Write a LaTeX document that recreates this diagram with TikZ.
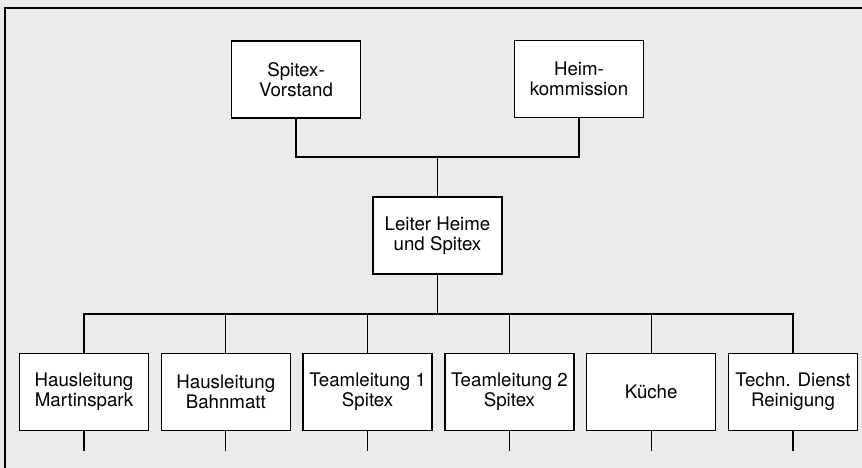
\documentclass[tikz,border=0pt]{standalone}
\usepackage{fontspec}
\setmainfont{TeX Gyre Heros}
\usepackage{tikz}

\begin{document}
\begin{tikzpicture}[
        org/.style={draw, line width=0.9pt, fill=white, align=center,
            minimum width=3.225cm, minimum height=1.925cm, inner sep=0pt,
            font=\fontsize{13.3}{14.2}\selectfont},
        conn/.style={line width=0.9pt}
    ]
                \fill[black!8] (0,0) rectangle (21.55,11.7);
                \useasboundingbox (0,0) rectangle (21.55,11.7);
                \draw[line width=0.8pt] (0.125,0) -- (0.125,11.5) -- (21.55,11.5);

                \node[org] (vorstand) at (7.4,9.71) {Spitex-\\Vorstand};
                \node[org] (kommission) at (14.475,9.72) {Heim-\\kommission};
                \node[org] (leiter) at (10.9375,5.8125) {Leiter Heime\\und Spitex};

                \node[org] (martinspark) at (2.1,1.9) {Hausleitung\\Martinspark};
                \node[org] (bahnmatt) at (5.645,1.9) {Hausleitung\\Bahnmatt};
                \node[org] (team1) at (9.19,1.9) {Teamleitung 1\\Spitex};
                \node[org] (team2) at (12.735,1.9) {Teamleitung 2\\Spitex};
                \node[org] (kueche) at (16.28,1.9) {Küche};
                \node[org] (technik) at (19.825,1.9) {Techn. Dienst\\Reinigung};

                \coordinate (topbus) at (10.9375,7.775);
                \coordinate (lowbus) at (10.9375,3.85);
                \coordinate (stubend) at (0,0.425);

                \draw[conn] (vorstand.south) |- (topbus) -| (kommission.south);
                \draw[conn] (topbus) -- (leiter.north);
                \draw[conn] (leiter.south) -- (lowbus);
                \draw[conn] (martinspark.north) |- (lowbus) -| (technik.north);
                \draw[conn] (bahnmatt.north) -- (bahnmatt.north |- lowbus);
                \draw[conn] (team1.north) -- (team1.north |- lowbus);
                \draw[conn] (team2.north) -- (team2.north |- lowbus);
                \draw[conn] (kueche.north) -- (kueche.north |- lowbus);

                \draw[conn] (martinspark.south) -- (martinspark.south |- stubend);
                \draw[conn] (bahnmatt.south) -- (bahnmatt.south |- stubend);
                \draw[conn] (team1.south) -- (team1.south |- stubend);
                \draw[conn] (team2.south) -- (team2.south |- stubend);
                \draw[conn] (kueche.south) -- (kueche.south |- stubend);
                \draw[conn] (technik.south) -- (technik.south |- stubend);
\end{tikzpicture}
\end{document}
